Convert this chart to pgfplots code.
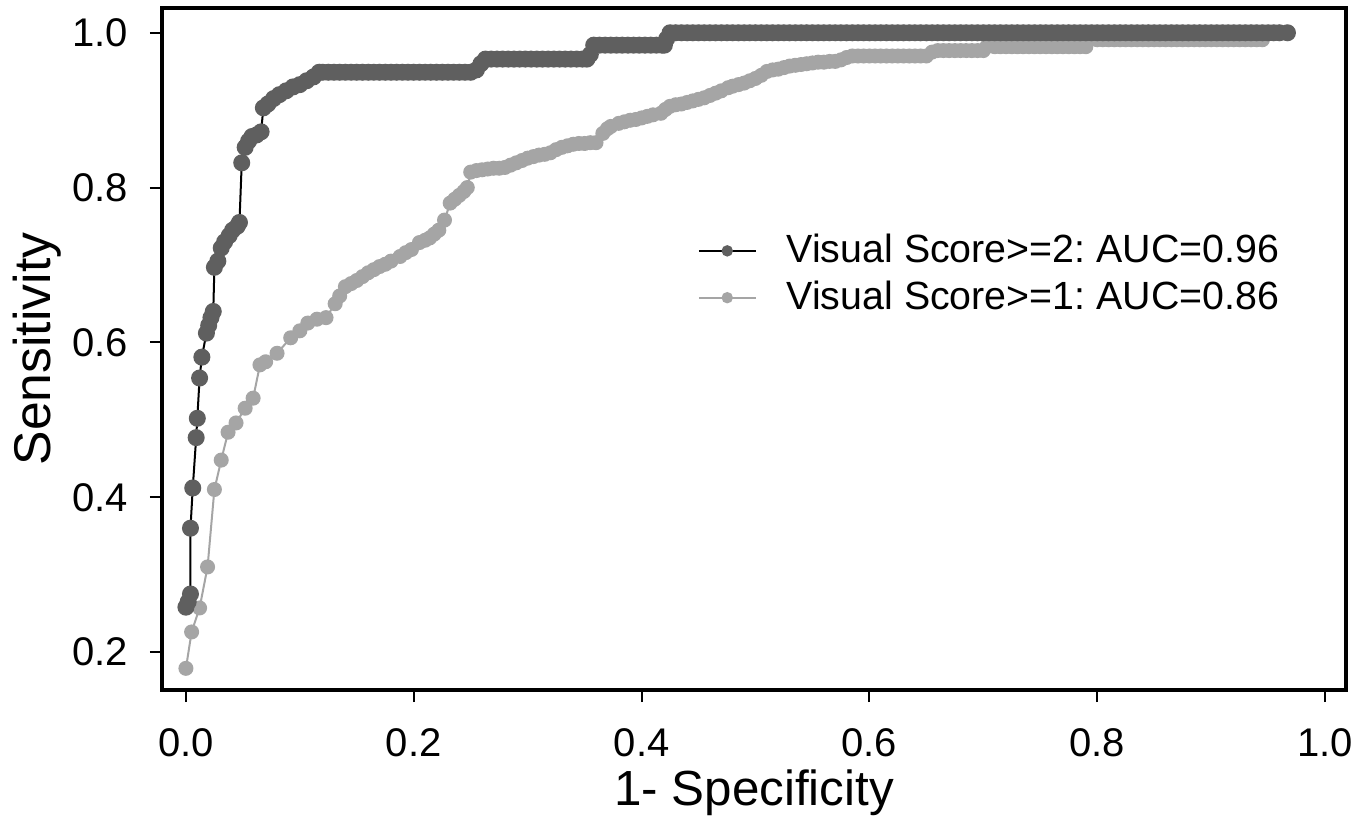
\documentclass[border=0pt]{standalone}
\usepackage{pgfplots}
\pgfplotsset{compat=1.18}
\usepackage{fontspec}
\setmainfont{Liberation Sans}
\definecolor{darkpt}{RGB}{95,95,95}
\definecolor{lightpt}{RGB}{165,165,165}

\begin{document}
\begin{tikzpicture}
\begin{axis}[
    name=ax,
    scale only axis,
    width=355.2pt, height=204.6pt,
    xmin=-0.021, xmax=1.0184,
    ymin=0.151, ymax=1.032,
    xtick={0,0.2,...,1.0},
    ytick={0.2,0.4,...,1.0},
    xticklabels={0.0,0.2,0.4,0.6,0.8,1.0},
    yticklabels={0.2,0.4,0.6,0.8,1.0},
    tick pos=left,
    tick align=outside,
    major tick length=3.6pt,
    tick style={black, line width=0.6pt},
    axis line style={line width=1pt},
    /pgf/number format/assume math mode=true,
    ticklabel style={font=\fontsize{12}{14}\selectfont},
    xticklabel style={yshift=-4.5pt},
    yticklabel style={xshift=-3pt},
    xlabel={1- Specificity},
    ylabel={Sensitivity},
    xlabel style={font=\fontsize{14.8}{17}\selectfont, yshift=3pt},
    ylabel style={font=\fontsize{15.5}{18}\selectfont, yshift=-3.5pt},
    legend style={at={(axis cs:0.44,0.758)}, anchor=north west, draw=none,
        fill=none, font=\fontsize{11.8}{13}\selectfont\frenchspacing, row sep=0pt,
        /tikz/every odd column/.append style={column sep=7pt}},
    legend image code/.code={\draw[mark repeat=2,mark phase=2,mark size=1.4pt]
        plot coordinates {(0cm,0cm)(0.3cm,0cm)(0.6cm,0cm)};},
    legend cell align=left,
    reverse legend,
    clip=false,
]
% Visual Score>=1
\addplot[color=lightpt, line width=0.6pt, mark=*, mark size=1.95pt,
    mark options={fill=lightpt, draw=lightpt}] coordinates {
(0.000,0.179)(0.005,0.226)(0.012,0.257)(0.019,0.310)(0.025,0.410)(0.031,0.448)
(0.037,0.484)(0.044,0.496)(0.052,0.515)(0.059,0.528)(0.065,0.571)(0.070,0.575)
(0.080,0.586)(0.092,0.606)(0.100,0.615)(0.107,0.625)(0.115,0.630)(0.123,0.632)
(0.131,0.650)(0.135,0.660)(0.140,0.672)(0.145,0.676)(0.150,0.680)(0.155,0.685)
(0.160,0.690)(0.165,0.694)(0.170,0.698)(0.175,0.701)(0.180,0.705)(0.188,0.711)
(0.193,0.716)(0.198,0.720)(0.205,0.729)(0.210,0.732)(0.214,0.735)(0.218,0.740)
(0.222,0.745)(0.227,0.758)(0.232,0.780)(0.236,0.785)(0.240,0.790)(0.244,0.795)
(0.247,0.800)(0.250,0.820)(0.255,0.822)(0.260,0.823)(0.265,0.824)(0.270,0.825)
(0.275,0.825)(0.280,0.826)(0.285,0.829)(0.290,0.832)(0.295,0.835)(0.300,0.838)
(0.305,0.840)(0.310,0.842)(0.315,0.843)(0.320,0.845)(0.325,0.849)(0.330,0.852)
(0.335,0.854)(0.340,0.856)(0.345,0.857)(0.350,0.857)(0.355,0.858)(0.360,0.858)
(0.366,0.870)(0.370,0.876)(0.373,0.879)(0.380,0.883)(0.385,0.885)(0.390,0.887)
(0.395,0.888)(0.400,0.890)(0.405,0.892)(0.410,0.894)(0.417,0.896)(0.421,0.901)
(0.425,0.905)(0.430,0.907)(0.435,0.908)(0.440,0.910)(0.445,0.912)(0.450,0.914)
(0.455,0.916)(0.460,0.919)(0.465,0.922)(0.470,0.925)(0.476,0.929)(0.480,0.931)
(0.485,0.933)(0.490,0.935)(0.495,0.938)(0.500,0.941)(0.505,0.945)(0.510,0.950)
(0.515,0.952)(0.520,0.953)(0.525,0.955)(0.530,0.957)(0.535,0.958)(0.540,0.959)
(0.545,0.960)(0.550,0.961)(0.555,0.962)(0.560,0.962)(0.565,0.963)(0.570,0.963)
(0.575,0.965)(0.580,0.968)(0.585,0.970)(0.590,0.970)(0.595,0.970)(0.600,0.970)
(0.605,0.970)(0.610,0.970)(0.615,0.970)(0.620,0.970)(0.625,0.970)(0.630,0.970)
(0.635,0.970)(0.640,0.970)(0.645,0.970)(0.650,0.970)(0.655,0.975)(0.660,0.977)
(0.665,0.977)(0.670,0.977)(0.675,0.977)(0.680,0.977)(0.685,0.977)(0.690,0.977)
(0.695,0.977)(0.700,0.977)(0.703,0.982)(0.710,0.982)(0.715,0.982)(0.720,0.982)
(0.725,0.982)(0.730,0.982)(0.735,0.982)(0.740,0.982)(0.745,0.982)(0.750,0.982)
(0.755,0.982)(0.760,0.982)(0.765,0.982)(0.770,0.982)(0.775,0.982)(0.780,0.982)
(0.785,0.982)(0.790,0.982)(0.793,0.991)(0.800,0.991)(0.805,0.991)(0.810,0.991)
(0.815,0.991)(0.820,0.991)(0.825,0.991)(0.830,0.991)(0.835,0.991)(0.840,0.991)
(0.845,0.991)(0.850,0.991)(0.855,0.991)(0.860,0.991)(0.865,0.991)(0.870,0.991)
(0.875,0.991)(0.880,0.991)(0.885,0.991)(0.890,0.991)(0.895,0.991)(0.900,0.991)
(0.905,0.991)(0.910,0.991)(0.915,0.991)(0.920,0.991)(0.925,0.991)(0.930,0.991)
(0.935,0.991)(0.940,0.991)(0.945,0.991)
};
\addlegendentry{Visual Score>=1: AUC=0.86}
% Visual Score>=2
\addplot[color=black, line width=0.6pt, mark=*, mark size=2.25pt,
    mark options={fill=darkpt, draw=darkpt}] coordinates {
(0.000,0.258)(0.002,0.265)(0.004,0.275)(0.004,0.360)(0.006,0.412)(0.009,0.477)
(0.010,0.502)(0.012,0.554)(0.014,0.581)(0.018,0.612)(0.020,0.622)(0.022,0.632)
(0.024,0.640)(0.025,0.697)(0.028,0.705)(0.031,0.722)(0.034,0.730)(0.038,0.738)
(0.041,0.745)(0.045,0.750)(0.047,0.755)(0.049,0.832)(0.052,0.852)(0.055,0.860)
(0.058,0.866)(0.062,0.868)(0.066,0.872)(0.068,0.903)(0.072,0.908)(0.077,0.915)
(0.082,0.920)(0.088,0.925)(0.094,0.930)(0.100,0.933)(0.106,0.938)(0.112,0.943)
(0.117,0.949)(0.120,0.949)(0.125,0.949)(0.130,0.949)(0.135,0.949)(0.140,0.949)
(0.145,0.949)(0.150,0.949)(0.155,0.949)(0.160,0.949)(0.165,0.949)(0.170,0.949)
(0.175,0.949)(0.180,0.949)(0.185,0.949)(0.190,0.949)(0.195,0.949)(0.200,0.949)
(0.205,0.949)(0.210,0.949)(0.215,0.949)(0.220,0.949)(0.225,0.949)(0.230,0.949)
(0.235,0.949)(0.240,0.949)(0.245,0.949)(0.250,0.949)(0.255,0.952)(0.259,0.960)
(0.263,0.966)(0.268,0.966)(0.273,0.966)(0.278,0.966)(0.283,0.966)(0.288,0.966)
(0.293,0.966)(0.298,0.966)(0.303,0.966)(0.308,0.966)(0.313,0.966)(0.318,0.966)
(0.323,0.966)(0.328,0.966)(0.333,0.966)(0.338,0.966)(0.343,0.966)(0.348,0.966)
(0.352,0.966)(0.355,0.972)(0.358,0.984)(0.363,0.984)(0.368,0.984)(0.373,0.984)
(0.378,0.984)(0.383,0.984)(0.388,0.984)(0.393,0.984)(0.398,0.984)(0.403,0.984)
(0.408,0.984)(0.413,0.984)(0.418,0.984)(0.420,0.984)(0.422,0.992)(0.425,1.000)
(0.430,1.000)(0.435,1.000)(0.440,1.000)(0.445,1.000)(0.450,1.000)(0.455,1.000)
(0.460,1.000)(0.465,1.000)(0.470,1.000)(0.475,1.000)(0.480,1.000)(0.485,1.000)
(0.490,1.000)(0.495,1.000)(0.500,1.000)(0.505,1.000)(0.510,1.000)(0.515,1.000)
(0.520,1.000)(0.525,1.000)(0.530,1.000)(0.535,1.000)(0.540,1.000)(0.545,1.000)
(0.550,1.000)(0.555,1.000)(0.560,1.000)(0.565,1.000)(0.570,1.000)(0.575,1.000)
(0.580,1.000)(0.585,1.000)(0.590,1.000)(0.595,1.000)(0.600,1.000)(0.605,1.000)
(0.610,1.000)(0.615,1.000)(0.620,1.000)(0.625,1.000)(0.630,1.000)(0.635,1.000)
(0.640,1.000)(0.645,1.000)(0.650,1.000)(0.655,1.000)(0.660,1.000)(0.665,1.000)
(0.670,1.000)(0.675,1.000)(0.680,1.000)(0.685,1.000)(0.690,1.000)(0.695,1.000)
(0.700,1.000)(0.705,1.000)(0.710,1.000)(0.715,1.000)(0.720,1.000)(0.725,1.000)
(0.730,1.000)(0.735,1.000)(0.740,1.000)(0.745,1.000)(0.750,1.000)(0.755,1.000)
(0.760,1.000)(0.765,1.000)(0.770,1.000)(0.775,1.000)(0.780,1.000)(0.785,1.000)
(0.790,1.000)(0.795,1.000)(0.800,1.000)(0.805,1.000)(0.810,1.000)(0.815,1.000)
(0.820,1.000)(0.825,1.000)(0.830,1.000)(0.835,1.000)(0.840,1.000)(0.845,1.000)
(0.850,1.000)(0.855,1.000)(0.860,1.000)(0.865,1.000)(0.870,1.000)(0.875,1.000)
(0.880,1.000)(0.885,1.000)(0.890,1.000)(0.895,1.000)(0.900,1.000)(0.905,1.000)
(0.910,1.000)(0.915,1.000)(0.920,1.000)(0.925,1.000)(0.930,1.000)(0.935,1.000)
(0.940,1.000)(0.945,1.000)(0.950,1.000)(0.955,1.000)(0.960,1.000)(0.967,1.000)
};
\addlegendentry{Visual Score>=2: AUC=0.96}
\end{axis}
\path (ax.south west) ++(-48.6pt,-36.6pt) (ax.north east) ++(7.8pt,2.4pt);
\end{tikzpicture}
\end{document}
